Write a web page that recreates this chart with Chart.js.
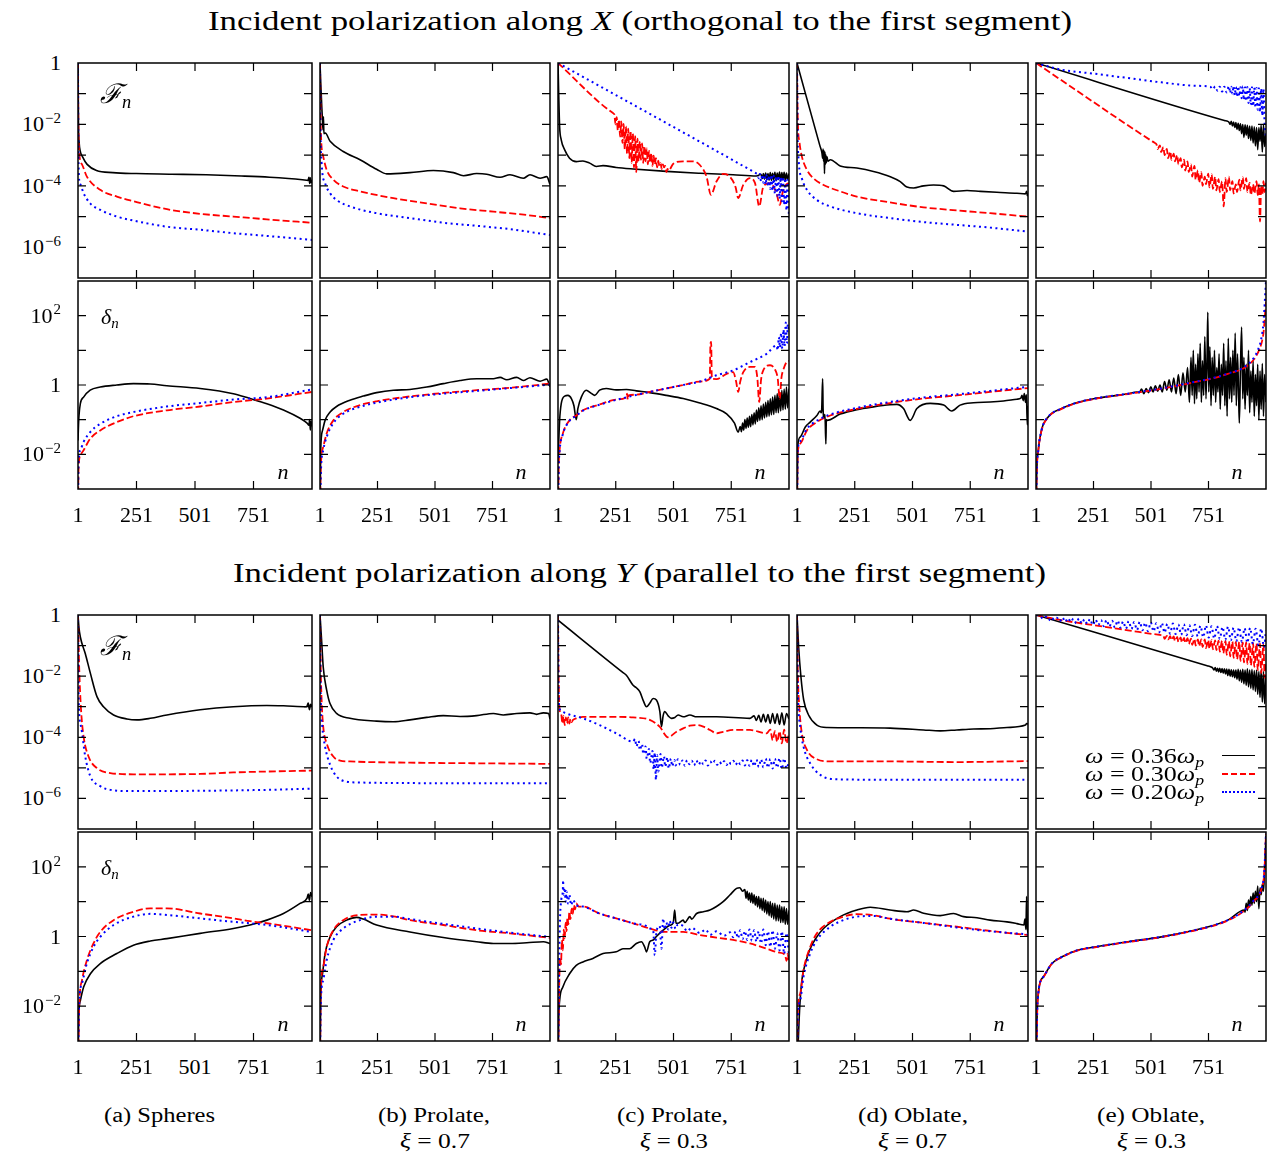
<!DOCTYPE html>
<html>
<head>
<meta charset="utf-8">
<script src="https://cdn.jsdelivr.net/npm/chart.js@4.4.1/dist/chart.umd.min.js"></script>
<style>
  body { margin: 0; background: #fff; width: 1271px; height: 1154px; position: relative; overflow: hidden;
         font-family: "Liberation Serif", "Times New Roman", "DejaVu Serif", serif; color: #000; }
  canvas { position: absolute; }
  .lbl { position: absolute; white-space: nowrap; line-height: 1; }
  .lbl sup { font-size: 68%; position: relative; top: -0.55em; vertical-align: baseline; margin-left: 1px; }
  .lbl sub { font-size: 68%; position: relative; top: 0.28em; vertical-align: baseline; }
  .sample { position: absolute; height: 0; }
</style>
</head>
<body>
<script>
// ---- data: [n, log10(value)] ----
// k = omega 0.36 (black), r = omega 0.30 (red), b = omega 0.20 (blue)

// Row 1: F_n, polarization X
const FX_a_k = [[1,0],[3,-2.0],[6,-2.6],[10,-2.85],[20,-3.05],[40,-3.3],[80,-3.5],[150,-3.57],[250,-3.6],[400,-3.62],[550,-3.64],[700,-3.68],[820,-3.72],[900,-3.76],[960,-3.8],[984,-3.82],[988,-3.72],[991,-3.92],[994,-3.74],[997,-3.9],[1001,-3.8]];
const FX_a_r = [[1,0],[2,-1.5],[5,-2.8],[18,-3.3],[39,-3.7],[96,-4.13],[167,-4.35],[238,-4.5],[381,-4.76],[523,-4.91],[665,-5.0],[808,-5.09],[1001,-5.2]];
const FX_a_b = [[1,0],[2,-2.0],[5,-3.7],[11,-3.95],[25,-4.24],[53,-4.57],[96,-4.78],[167,-5.0],[238,-5.13],[381,-5.33],[523,-5.43],[665,-5.54],[808,-5.63],[1001,-5.76]];

const FX_b_k = [[1,0],[4,-0.6],[9,-1.47],[12,-1.9],[14,-2.17],[16,-1.75],[18,-2.3],[24,-2.28],[45,-2.55],[102,-2.88],[175,-3.15],[247,-3.46],[291,-3.61],[392,-3.57],[494,-3.5],[581,-3.57],[625,-3.67],[682,-3.6],[726,-3.62],[784,-3.72],[827,-3.64],[885,-3.75],[914,-3.64],[958,-3.75],[987,-3.7],[1001,-3.95]];
const FX_b_r = [[1,0],[5,-2.28],[15,-3.04],[30,-3.48],[59,-3.8],[102,-4.02],[175,-4.18],[320,-4.4],[465,-4.57],[610,-4.73],[755,-4.84],[900,-4.95],[1001,-5.05]];
const FX_b_b = [[1,0],[3,-2.0],[8,-3.26],[23,-3.91],[45,-4.24],[73,-4.46],[131,-4.67],[247,-4.89],[392,-5.05],[537,-5.2],[682,-5.3],[827,-5.41],[1001,-5.6]];

const FX_c_k = [[1,0],[4,-1.0],[8,-2.07],[15,-2.5],[30,-2.83],[51,-3.1],[80,-3.21],[109,-3.19],[138,-3.26],[167,-3.37],[196,-3.34],[253,-3.4],[326,-3.45],[470,-3.53],[615,-3.59],[759,-3.64],[860,-3.68],[880,-3.62],[885,-3.76],[890,-3.6],[895,-3.78],[900,-3.58],[905,-3.8],[910,-3.6],[915,-3.81],[920,-3.57],[925,-3.82],[930,-3.59],[935,-3.8],[940,-3.56],[945,-3.83],[950,-3.58],[955,-3.79],[960,-3.55],[965,-3.84],[970,-3.57],[975,-3.8],[980,-3.56],[985,-3.83],[990,-3.58],[995,-3.78],[1001,-3.6]];
const FX_c_r = [[1,0],[239,-1.63],[245,-1.68],[250,-2.0],[255,-1.76],[260,-2.2],[265,-1.84],[270,-2.4],[275,-1.9],[280,-2.6],[285,-1.98],[290,-2.8],[295,-2.06],[300,-2.95],[305,-2.14],[310,-3.1],[315,-2.22],[320,-3.25],[325,-2.3],[330,-3.4],[335,-2.38],[340,-3.55],[345,-2.46],[350,-3.2],[355,-2.55],[360,-3.15],[365,-2.62],[370,-3.25],[375,-2.7],[380,-3.2],[385,-2.78],[390,-3.3],[395,-2.86],[400,-3.25],[405,-2.94],[410,-3.35],[415,-3.02],[420,-3.3],[425,-3.1],[430,-3.4],[435,-3.18],[440,-3.35],[445,-3.26],[450,-3.45],[455,-3.3],[460,-3.4],[465,-3.35],[470,-3.55],[475,-3.45],[480,-3.5],[500,-3.28],[543,-3.2],[586,-3.2],[615,-3.32],[644,-3.7],[663,-4.29],[687,-3.86],[716,-3.61],[745,-3.7],[770,-4.05],[781,-4.4],[803,-3.97],[832,-3.75],[854,-3.91],[872,-4.67],[890,-4.02],[919,-3.91],[947,-4.24],[961,-4.62],[976,-4.13],[990,-3.95],[1001,-3.91]];
const FX_c_b = [[1,0],[861,-3.6],[865,-3.62],[870,-3.75],[875,-3.61],[880,-3.85],[885,-3.63],[890,-3.9],[895,-3.64],[900,-3.96],[905,-3.63],[910,-4.02],[915,-3.66],[920,-4.1],[925,-3.64],[930,-4.16],[935,-3.68],[940,-4.25],[945,-3.69],[950,-4.32],[955,-3.67],[960,-4.42],[965,-3.72],[970,-4.5],[975,-3.7],[980,-4.62],[985,-3.75],[990,-4.8],[995,-3.8],[1001,-5.05]];

const FX_d_k = [[1,0],[100,-2.69],[109,-2.93],[112,-3.1],[114,-2.8],[116,-3.2],[118,-2.85],[120,-3.6],[122,-2.9],[124,-3.3],[126,-3.0],[128,-3.25],[131,-3.05],[135,-3.2],[145,-3.15],[188,-3.35],[260,-3.42],[332,-3.53],[405,-3.7],[448,-3.86],[477,-4.04],[506,-4.07],[549,-4.0],[592,-3.97],[636,-4.0],[679,-4.18],[737,-4.15],[795,-4.18],[866,-4.21],[953,-4.24],[990,-4.26],[995,-4.18],[998,-4.32],[1001,-4.25]];
const FX_d_r = [[1,0],[4,-1.74],[12,-2.6],[22,-3.04],[44,-3.48],[73,-3.76],[116,-3.97],[188,-4.18],[260,-4.35],[404,-4.54],[549,-4.7],[693,-4.8],[837,-4.89],[1001,-5.0]];
const FX_d_b = [[1,0],[3,-2.0],[8,-3.15],[22,-3.75],[44,-4.13],[87,-4.46],[145,-4.67],[260,-4.89],[404,-5.05],[549,-5.18],[693,-5.27],[837,-5.36],[1001,-5.49]];

const FX_e_k = [[1,0],[820,-1.87],[835,-1.9],[840,-1.93],[845,-2.0],[850,-1.9],[855,-2.05],[860,-1.92],[865,-2.1],[870,-1.94],[875,-2.16],[880,-1.96],[885,-2.2],[890,-1.98],[895,-2.3],[900,-2.0],[905,-2.42],[910,-2.01],[915,-2.35],[920,-2.03],[925,-2.46],[930,-2.05],[935,-2.52],[940,-2.05],[945,-2.6],[950,-2.08],[955,-2.7],[960,-2.1],[965,-2.82],[970,-2.1],[975,-2.55],[980,-2.02],[985,-2.9],[990,-2.0],[995,-2.72],[1001,-2.3]];
const FX_e_r = [[1,0],[500,-2.52],[517,-2.6],[525,-2.65],[530,-2.8],[540,-2.68],[545,-2.9],[555,-2.74],[560,-3.0],[570,-2.8],[575,-3.1],[585,-2.88],[590,-3.15],[600,-2.95],[605,-3.2],[615,-3.0],[620,-3.3],[630,-3.1],[635,-3.4],[645,-3.15],[650,-3.5],[660,-3.2],[665,-3.55],[675,-3.3],[680,-3.7],[690,-3.35],[695,-3.8],[705,-3.5],[710,-3.9],[720,-3.55],[725,-4.0],[735,-3.7],[740,-3.95],[750,-3.6],[755,-4.05],[765,-3.62],[770,-4.1],[780,-3.7],[785,-4.15],[795,-3.78],[800,-4.2],[810,-3.85],[817,-4.67],[825,-3.75],[830,-4.2],[840,-3.7],[845,-4.15],[855,-3.85],[860,-4.25],[870,-3.95],[875,-4.2],[885,-3.8],[890,-4.15],[900,-3.72],[905,-4.1],[915,-3.75],[920,-4.2],[930,-3.9],[935,-4.3],[945,-3.95],[950,-4.25],[960,-3.85],[965,-4.3],[970,-3.95],[975,-5.16],[980,-4.0],[985,-4.3],[990,-3.85],[995,-4.2],[1001,-3.9]];
const FX_e_b = [[1,0],[112,-0.22],[257,-0.35],[401,-0.49],[546,-0.63],[690,-0.74],[760,-0.78],[770,-0.86],[780,-0.76],[790,-0.9],[800,-0.77],[810,-0.93],[820,-0.77],[830,-0.96],[840,-0.75],[845,-0.98],[850,-0.77],[855,-1.0],[860,-0.75],[865,-1.05],[870,-0.78],[875,-1.1],[880,-0.76],[885,-1.08],[890,-0.79],[895,-1.15],[900,-0.76],[905,-1.2],[910,-0.79],[915,-1.24],[920,-0.78],[925,-1.3],[930,-0.81],[935,-1.36],[940,-0.79],[945,-1.4],[950,-0.8],[955,-1.46],[960,-0.81],[965,-1.52],[970,-0.82],[975,-1.6],[980,-0.83],[985,-1.72],[990,-0.83],[995,-2.0],[1001,-2.4]];

// Row 2: delta_n, polarization X
const DX_a_k = [[1,-1.6],[4,-1.02],[11,-0.54],[25,-0.35],[53,-0.15],[96,-0.06],[167,0.0],[238,0.04],[310,0.03],[381,-0.02],[523,-0.1],[665,-0.25],[736,-0.39],[808,-0.54],[879,-0.72],[950,-0.96],[980,-1.1],[988,-1.16],[991,-1.0],[994,-1.3],[997,-1.05],[1001,-1.2]];
const DX_a_r = [[1,-4],[3,-2.5],[11,-2.03],[25,-1.88],[53,-1.55],[96,-1.31],[167,-1.07],[238,-0.9],[381,-0.73],[523,-0.62],[665,-0.49],[808,-0.39],[1001,-0.2]];
const DX_a_b = [[1,-4],[3,-2.3],[11,-1.88],[25,-1.64],[53,-1.36],[96,-1.12],[167,-0.9],[238,-0.78],[381,-0.62],[523,-0.52],[665,-0.42],[808,-0.35],[1001,-0.13]];

const DX_b_k = [[1,-4],[4,-1.88],[12,-1.31],[23,-1.02],[45,-0.78],[73,-0.62],[131,-0.44],[189,-0.32],[247,-0.22],[320,-0.15],[392,-0.13],[465,-0.06],[537,0.04],[610,0.13],[682,0.18],[755,0.18],[784,0.22],[813,0.15],[856,0.22],[885,0.13],[914,0.21],[958,0.11],[987,0.17],[1001,-0.05]];
const DX_b_r = [[1,-4],[4,-2.46],[15,-1.79],[30,-1.4],[59,-1.02],[102,-0.78],[175,-0.58],[247,-0.47],[392,-0.33],[537,-0.23],[682,-0.15],[827,-0.08],[1001,0.04]];
const DX_b_b = [[1,-4],[5,-2.5],[15,-1.88],[30,-1.5],[59,-1.1],[102,-0.83],[175,-0.63],[247,-0.51],[392,-0.35],[537,-0.25],[682,-0.17],[827,-0.09],[1001,0.01]];

const DX_c_k = [[1,-2.2],[8,-1.02],[15,-0.54],[30,-0.32],[44,-0.3],[59,-0.39],[70,-0.6],[80,-1.0],[87,-0.68],[102,-0.35],[123,-0.15],[145,-0.24],[160,-0.3],[181,-0.15],[210,-0.1],[253,-0.14],[297,-0.13],[340,-0.17],[398,-0.22],[470,-0.3],[543,-0.39],[615,-0.52],[687,-0.68],[731,-0.83],[765,-1.1],[781,-1.36],[790,-1.2],[795,-1.35],[800,-1.1],[805,-1.3],[810,-1.0],[815,-1.25],[820,-0.95],[825,-1.22],[830,-0.9],[835,-1.2],[840,-0.85],[845,-1.15],[850,-0.8],[855,-1.12],[860,-0.72],[865,-1.05],[870,-0.66],[875,-1.02],[880,-0.6],[885,-1.0],[890,-0.55],[895,-0.95],[900,-0.5],[905,-0.92],[910,-0.45],[915,-0.9],[920,-0.4],[925,-0.86],[930,-0.35],[935,-0.85],[940,-0.3],[945,-0.8],[950,-0.25],[955,-0.8],[960,-0.2],[965,-0.75],[970,-0.15],[975,-0.72],[980,-0.12],[985,-0.7],[990,-0.06],[995,-0.66],[1001,-0.1]];
const DX_c_r = [[1,-4],[4,-2.4],[8,-1.88],[22,-1.4],[51,-1.02],[80,-0.88],[109,-0.73],[181,-0.56],[253,-0.42],[297,-0.35],[300,-0.25],[303,-0.42],[306,-0.3],[340,-0.28],[398,-0.2],[470,-0.1],[543,0.0],[615,0.1],[658,0.18],[661,1.2],[664,1.24],[667,0.18],[687,0.17],[731,0.32],[759,0.37],[772,0.1],[781,-0.2],[790,0.1],[803,0.37],[832,0.52],[854,0.52],[864,0.2],[872,-0.49],[880,0.15],[890,0.43],[919,0.57],[940,0.45],[952,0.2],[961,-0.4],[968,0.2],[976,0.43],[990,0.66],[1001,0.7]];
const DX_c_b = [[1,-4],[4,-2.45],[8,-1.9],[22,-1.42],[51,-1.03],[80,-0.89],[109,-0.74],[181,-0.57],[253,-0.43],[398,-0.2],[470,-0.1],[543,0.0],[615,0.1],[687,0.28],[759,0.42],[832,0.66],[904,0.9],[947,1.14],[952,1.0],[957,1.38],[962,1.08],[967,1.5],[972,1.05],[977,1.6],[982,1.12],[987,1.8],[992,1.2],[996,1.75],[1001,1.5]];

const DX_d_k = [[1,-4],[4,-1.79],[15,-1.5],[37,-1.21],[58,-1.07],[87,-0.88],[101,-0.75],[106,-0.8],[108,-0.7],[112,0.18],[114,-0.7],[118,-0.95],[122,-0.85],[126,-1.7],[128,-1.0],[131,-1.02],[188,-0.84],[260,-0.71],[332,-0.63],[404,-0.57],[433,-0.56],[462,-0.68],[491,-1.02],[520,-0.68],[578,-0.53],[636,-0.58],[671,-0.75],[707,-0.58],[765,-0.51],[837,-0.49],[895,-0.46],[953,-0.41],[970,-0.38],[975,-0.3],[980,-0.45],[985,-0.25],[990,-0.5],[994,-0.28],[998,-1.15],[1001,-0.6]];
const DX_d_r = [[1,-4],[4,-1.98],[15,-1.69],[44,-1.31],[87,-1.07],[145,-0.88],[260,-0.69],[404,-0.52],[549,-0.39],[693,-0.3],[837,-0.2],[1001,-0.09]];
const DX_d_b = [[1,-4],[4,-1.9],[15,-1.62],[44,-1.26],[87,-1.03],[145,-0.85],[260,-0.66],[404,-0.49],[549,-0.36],[693,-0.27],[837,-0.17],[1001,-0.05]];

const DX_e_k = [[1,-4],[4,-2.6],[11,-1.88],[25,-1.3],[54,-0.92],[112,-0.68],[184,-0.5],[257,-0.39],[330,-0.32],[401,-0.25],[440,-0.2],[450,-0.22],[460,-0.12],[470,-0.25],[480,-0.1],[490,-0.22],[500,-0.05],[510,-0.2],[520,-0.02],[530,-0.18],[540,0.0],[550,-0.2],[560,0.1],[570,-0.15],[580,0.15],[590,-0.2],[600,0.2],[610,-0.25],[620,0.3],[630,-0.3],[640,0.35],[650,-0.2],[660,0.5],[668,-0.5],[675,0.8],[680,-0.3],[685,1.0],[690,-0.54],[695,0.6],[700,-0.4],[705,0.9],[710,-0.2],[715,1.2],[720,-0.5],[725,0.7],[730,-0.3],[735,1.4],[740,-0.4],[745,0.9],[748,2.1],[752,-0.2],[757,1.1],[762,-0.6],[767,0.8],[772,-0.3],[777,1.0],[782,-0.5],[787,0.5],[792,-0.2],[797,0.9],[802,-0.7],[807,0.6],[812,-0.3],[817,1.2],[822,-0.6],[827,0.7],[832,-0.9],[837,1.35],[842,-0.4],[847,0.8],[852,-0.5],[857,1.0],[862,-0.3],[867,1.5],[872,-0.6],[877,0.9],[882,-0.3],[885,-1.1],[890,0.5],[895,1.67],[900,-0.4],[905,0.8],[910,-0.7],[915,0.6],[920,-0.3],[925,1.0],[930,-0.8],[935,0.4],[940,-0.5],[945,0.7],[950,-0.9],[955,0.3],[960,-0.6],[965,0.6],[970,-1.0],[975,0.4],[980,-0.7],[985,0.62],[990,-0.9],[995,0.3],[1001,-0.5]];
const DX_e_r = [[1,-4],[4,-2.6],[11,-1.9],[25,-1.32],[54,-0.93],[112,-0.69],[184,-0.51],[257,-0.4],[401,-0.26],[546,-0.11],[690,0.08],[763,0.18],[835,0.32],[907,0.5],[950,0.75],[965,0.92],[979,1.15],[990,1.5],[1001,2.4]];
const DX_e_b = [[1,-4],[4,-2.6],[11,-1.88],[25,-1.3],[54,-0.92],[112,-0.68],[184,-0.5],[257,-0.39],[401,-0.25],[546,-0.1],[690,0.09],[763,0.19],[835,0.33],[907,0.52],[950,0.8],[965,1.0],[979,1.29],[990,1.8],[1001,3.0]];

// Row 3: F_n, polarization Y
const FY_a_k = [[1,0],[5,-0.4],[11,-0.72],[32,-1.26],[54,-1.91],[82,-2.67],[110,-3.0],[153,-3.27],[210,-3.4],[253,-3.43],[310,-3.38],[381,-3.27],[523,-3.1],[665,-3.0],[808,-2.96],[879,-2.97],[978,-3.0],[985,-2.88],[990,-3.1],[995,-2.92],[1001,-3.0]];
const FY_a_r = [[1,0],[6,-1.7],[14,-3.1],[25,-3.98],[46,-4.63],[82,-5.01],[139,-5.17],[238,-5.21],[381,-5.21],[523,-5.2],[665,-5.15],[808,-5.12],[1001,-5.09]];
const FY_a_b = [[1,0],[4,-2.78],[14,-3.65],[32,-4.63],[54,-5.28],[96,-5.6],[139,-5.72],[238,-5.76],[523,-5.75],[808,-5.72],[1001,-5.68]];

const FY_b_k = [[1,0],[8,-0.83],[15,-1.7],[30,-2.46],[44,-2.89],[73,-3.22],[131,-3.38],[247,-3.47],[320,-3.49],[392,-3.43],[465,-3.35],[537,-3.29],[610,-3.32],[682,-3.29],[755,-3.22],[798,-3.27],[856,-3.22],[914,-3.2],[943,-3.25],[972,-3.2],[995,-3.22],[1001,-3.4]];
const FY_b_r = [[1,0],[4,-1.7],[8,-2.78],[15,-3.65],[30,-4.2],[59,-4.63],[88,-4.76],[131,-4.79],[392,-4.83],[682,-4.85],[1001,-4.87]];
const FY_b_b = [[1,0],[4,-2.57],[11,-3.65],[23,-4.3],[45,-4.9],[73,-5.28],[117,-5.45],[175,-5.48],[537,-5.5],[1001,-5.5]];

const FY_c_k = [[1,-0.17],[280,-1.87],[297,-1.97],[326,-2.3],[340,-2.38],[355,-2.51],[370,-2.8],[384,-3.0],[398,-2.89],[413,-2.73],[427,-2.78],[442,-3.16],[449,-3.65],[456,-3.3],[463,-3.16],[478,-3.3],[492,-3.38],[507,-3.35],[521,-3.27],[543,-3.33],[572,-3.27],[601,-3.33],[687,-3.33],[832,-3.38],[850,-3.3],[860,-3.45],[870,-3.28],[880,-3.5],[890,-3.25],[900,-3.5],[910,-3.26],[920,-3.55],[930,-3.22],[940,-3.55],[950,-3.23],[960,-3.58],[970,-3.2],[980,-3.6],[990,-3.22],[1001,-3.4]];
const FY_c_r = [[1,0],[3,-1.7],[8,-3.1],[15,-3.25],[20,-3.55],[25,-3.3],[30,-3.6],[35,-3.35],[40,-3.55],[45,-3.35],[50,-3.55],[55,-3.4],[60,-3.5],[66,-3.43],[80,-3.38],[109,-3.33],[181,-3.33],[253,-3.33],[326,-3.35],[398,-3.43],[441,-3.65],[477,-4.0],[514,-3.82],[543,-3.71],[572,-3.62],[601,-3.6],[630,-3.65],[659,-3.76],[687,-3.87],[716,-3.82],[759,-3.76],[832,-3.76],[904,-3.87],[920,-3.75],[930,-4.1],[940,-3.8],[950,-4.15],[960,-3.8],[970,-4.2],[980,-3.75],[990,-4.2],[1001,-3.87]];
const FY_c_b = [[1,0],[4,-2.78],[11,-3.11],[37,-3.22],[109,-3.38],[181,-3.6],[253,-3.87],[326,-4.14],[335,-4.05],[340,-4.3],[350,-4.12],[355,-4.42],[365,-4.22],[370,-4.55],[380,-4.3],[385,-4.7],[395,-4.38],[400,-4.85],[410,-4.45],[415,-5.05],[420,-4.5],[425,-5.39],[430,-4.58],[435,-5.12],[445,-4.55],[450,-5.0],[460,-4.62],[465,-4.96],[475,-4.66],[480,-5.02],[490,-4.7],[495,-4.95],[505,-4.74],[510,-4.92],[520,-4.72],[530,-4.9],[540,-4.76],[550,-4.93],[560,-4.75],[570,-4.88],[580,-4.77],[590,-4.92],[600,-4.76],[610,-4.9],[620,-4.78],[630,-4.88],[640,-4.76],[650,-4.92],[660,-4.79],[670,-4.87],[680,-4.77],[690,-4.9],[700,-4.8],[710,-4.88],[720,-4.78],[730,-4.91],[740,-4.8],[750,-4.87],[760,-4.77],[770,-4.9],[780,-4.79],[790,-4.88],[800,-4.76],[810,-4.92],[820,-4.75],[830,-4.93],[840,-4.74],[850,-4.95],[860,-4.73],[870,-4.97],[880,-4.72],[890,-4.98],[900,-4.7],[910,-5.0],[920,-4.71],[930,-5.02],[940,-4.7],[950,-5.0],[960,-4.68],[970,-5.04],[980,-4.69],[990,-5.02],[1001,-4.8]];

const FY_d_k = [[1,0],[8,-1.04],[18,-2.02],[30,-2.78],[51,-3.27],[87,-3.6],[131,-3.68],[260,-3.69],[404,-3.7],[549,-3.76],[621,-3.79],[693,-3.76],[765,-3.73],[837,-3.72],[910,-3.68],[990,-3.6],[995,-3.55],[1001,-3.57]];
const FY_d_r = [[1,0],[4,-1.7],[12,-3.11],[22,-3.87],[44,-4.41],[87,-4.72],[145,-4.79],[404,-4.79],[693,-4.81],[1001,-4.78]];
const FY_d_b = [[1,0],[4,-2.2],[15,-3.65],[29,-4.3],[58,-4.85],[102,-5.23],[159,-5.37],[404,-5.39],[1001,-5.39]];

const FY_e_k = [[1,0],[745,-1.66],[762,-1.7],[770,-1.74],[775,-1.8],[780,-1.72],[785,-1.84],[790,-1.74],[795,-1.86],[800,-1.74],[805,-1.88],[810,-1.75],[815,-1.9],[820,-1.76],[825,-1.93],[830,-1.77],[835,-1.98],[840,-1.78],[845,-2.0],[850,-1.79],[855,-2.02],[860,-1.8],[865,-2.05],[870,-1.8],[875,-2.1],[880,-1.78],[885,-2.15],[890,-1.8],[895,-2.2],[900,-1.78],[905,-2.25],[910,-1.8],[915,-2.3],[920,-1.76],[925,-2.35],[930,-1.8],[935,-2.4],[940,-1.78],[945,-2.45],[950,-1.82],[955,-2.5],[960,-1.8],[965,-2.6],[970,-1.85],[975,-2.7],[980,-1.8],[985,-2.85],[990,-1.85],[995,-2.9],[1001,-2.0]];
const FY_e_r = [[1,0],[112,-0.17],[257,-0.34],[401,-0.5],[546,-0.66],[555,-0.68],[560,-0.78],[570,-0.68],[575,-0.8],[585,-0.69],[590,-0.82],[600,-0.7],[605,-0.85],[615,-0.72],[620,-0.88],[630,-0.73],[635,-0.9],[645,-0.75],[650,-0.92],[660,-0.76],[665,-0.95],[675,-0.77],[680,-0.98],[690,-0.78],[695,-1.0],[705,-0.8],[710,-1.02],[720,-0.8],[725,-1.05],[735,-0.8],[740,-1.08],[750,-0.82],[755,-1.1],[765,-0.82],[770,-1.12],[780,-0.83],[785,-1.15],[795,-0.84],[800,-1.2],[810,-0.84],[815,-1.25],[825,-0.85],[830,-1.3],[840,-0.86],[845,-1.35],[855,-0.87],[860,-1.4],[870,-0.88],[875,-1.45],[885,-0.88],[890,-1.5],[900,-0.9],[905,-1.55],[915,-0.9],[920,-1.6],[930,-0.92],[935,-1.65],[945,-0.92],[950,-1.7],[960,-0.93],[965,-1.8],[975,-0.94],[980,-1.9],[990,-0.97],[995,-2.05],[1001,-1.5]];
const FY_e_b = [[1,0],[20,-0.04],[32,-0.13],[44,-0.06],[56,-0.17],[68,-0.07],[80,-0.16],[92,-0.09],[104,-0.21],[116,-0.08],[128,-0.23],[140,-0.1],[152,-0.23],[164,-0.12],[176,-0.27],[188,-0.11],[200,-0.28],[212,-0.14],[224,-0.29],[236,-0.13],[248,-0.33],[260,-0.15],[272,-0.33],[284,-0.17],[296,-0.37],[308,-0.16],[320,-0.38],[332,-0.19],[344,-0.41],[356,-0.18],[368,-0.42],[380,-0.21],[392,-0.45],[404,-0.2],[416,-0.46],[428,-0.23],[440,-0.49],[452,-0.22],[464,-0.5],[476,-0.25],[488,-0.53],[500,-0.24],[512,-0.54],[524,-0.27],[536,-0.57],[548,-0.26],[560,-0.58],[572,-0.29],[584,-0.61],[596,-0.28],[608,-0.62],[620,-0.31],[632,-0.65],[644,-0.3],[656,-0.66],[668,-0.33],[680,-0.69],[692,-0.32],[704,-0.7],[716,-0.35],[728,-0.73],[740,-0.34],[752,-0.74],[764,-0.37],[776,-0.77],[788,-0.36],[800,-0.78],[812,-0.39],[824,-0.81],[836,-0.38],[848,-0.83],[860,-0.41],[872,-0.86],[884,-0.4],[896,-0.88],[908,-0.43],[920,-0.91],[932,-0.42],[944,-0.95],[956,-0.45],[968,-1.0],[980,-0.44],[992,-1.05],[1001,-0.5]];

// Row 4: delta_n, polarization Y
const DY_a_k = [[1,-4],[4,-2.32],[11,-1.84],[25,-1.45],[54,-1.07],[96,-0.78],[167,-0.49],[238,-0.25],[310,-0.13],[381,-0.06],[523,0.09],[665,0.23],[736,0.33],[808,0.47],[879,0.66],[950,0.95],[980,1.1],[985,1.22],[990,1.04],[995,1.26],[1001,1.14]];
const DY_a_r = [[1,-4],[6,-2.03],[18,-1.26],[39,-0.68],[67,-0.2],[96,0.13],[153,0.47],[238,0.71],[310,0.81],[381,0.81],[523,0.66],[665,0.52],[736,0.44],[808,0.38],[1001,0.18]];
const DY_a_b = [[1,-4],[6,-1.93],[18,-1.35],[39,-0.77],[67,-0.3],[96,-0.01],[153,0.33],[238,0.57],[310,0.65],[381,0.62],[523,0.52],[665,0.42],[808,0.33],[1001,0.13]];

const DY_b_k = [[1,-4],[4,-1.84],[12,-1.07],[23,-0.49],[45,-0.01],[73,0.28],[117,0.47],[160,0.55],[189,0.5],[247,0.33],[392,0.13],[537,-0.03],[682,-0.15],[755,-0.2],[827,-0.2],[900,-0.18],[972,-0.15],[1001,-0.2]];
const DY_b_r = [[1,-4],[4,-1.64],[15,-0.88],[30,-0.3],[59,0.18],[102,0.47],[175,0.62],[247,0.63],[320,0.58],[392,0.47],[537,0.33],[682,0.18],[827,0.09],[1001,-0.04]];
const DY_b_b = [[1,-4],[4,-2.0],[15,-1.25],[30,-0.68],[59,-0.1],[102,0.23],[175,0.47],[247,0.57],[320,0.57],[392,0.5],[537,0.36],[682,0.23],[827,0.11],[1001,-0.01]];

const DY_c_k = [[1,-4],[4,-2.4],[8,-1.84],[22,-1.45],[51,-1.07],[80,-0.83],[109,-0.73],[152,-0.63],[196,-0.49],[253,-0.44],[282,-0.35],[311,-0.35],[340,-0.2],[362,-0.15],[376,-0.3],[384,-0.44],[398,-0.15],[413,-0.1],[427,0.0],[456,0.18],[485,0.32],[500,0.4],[506,0.76],[512,0.38],[521,0.38],[543,0.47],[550,0.4],[572,0.57],[580,0.5],[601,0.66],[630,0.71],[659,0.76],[687,0.86],[716,1.0],[745,1.19],[774,1.38],[788,1.4],[800,1.3],[810,1.35],[815,1.1],[820,1.3],[825,1.05],[830,1.25],[835,0.98],[840,1.25],[845,0.95],[850,1.2],[855,0.9],[860,1.15],[865,0.85],[870,1.15],[875,0.8],[880,1.1],[885,0.75],[890,1.1],[895,0.7],[900,1.05],[905,0.65],[910,1.0],[915,0.6],[920,1.0],[925,0.55],[930,0.95],[935,0.5],[940,0.95],[945,0.45],[950,0.9],[955,0.45],[960,0.9],[965,0.4],[970,0.85],[975,0.4],[980,0.85],[985,0.35],[990,0.8],[995,0.35],[1001,0.75]];
const DY_c_r = [[1,-4],[6,-1.5],[10,-0.6],[14,-0.8],[18,-0.1],[22,-0.4],[26,0.2],[30,-0.05],[34,0.4],[38,0.15],[42,0.55],[46,0.35],[50,0.7],[55,0.5],[60,0.8],[65,0.65],[70,0.9],[75,0.78],[80,0.95],[90,0.86],[109,0.86],[181,0.66],[253,0.52],[326,0.38],[398,0.23],[470,0.13],[543,0.13],[615,0.04],[687,-0.03],[759,-0.1],[832,-0.2],[904,-0.35],[950,-0.45],[976,-0.49],[985,-0.55],[990,-0.7],[995,-0.5],[1001,-0.75]];
const DY_c_b = [[1,-4],[8,0.0],[15,1.05],[22,1.33],[23,1.62],[25,1.2],[30,1.4],[34,1.0],[38,1.3],[44,0.95],[50,1.2],[58,0.9],[66,1.05],[80,0.9],[109,0.86],[181,0.66],[253,0.52],[326,0.38],[384,0.3],[398,0.23],[413,0.18],[420,-0.54],[427,0.13],[441,0.3],[449,-0.35],[456,0.52],[463,0.2],[470,0.4],[478,0.2],[485,0.45],[492,0.25],[500,0.4],[510,0.22],[520,0.35],[543,0.3],[560,0.15],[580,0.25],[615,0.1],[640,0.2],[660,0.05],[687,0.15],[720,0.02],[745,0.12],[760,-0.02],[770,0.15],[780,-0.05],[790,0.18],[800,-0.08],[810,0.16],[820,-0.1],[830,0.2],[840,-0.12],[850,0.18],[860,-0.15],[870,0.15],[880,-0.2],[890,0.2],[900,-0.25],[910,0.15],[920,-0.3],[930,0.18],[940,-0.35],[950,0.1],[960,-0.4],[970,0.15],[980,-0.5],[990,0.1],[1001,-0.55]];

const DY_d_k = [[1,-4],[12,-2.13],[22,-1.26],[37,-0.78],[58,-0.35],[87,-0.01],[116,0.23],[188,0.57],[260,0.76],[318,0.84],[404,0.76],[477,0.71],[506,0.76],[549,0.67],[621,0.6],[679,0.66],[722,0.57],[780,0.54],[837,0.47],[910,0.42],[953,0.37],[983,0.33],[988,0.5],[992,0.2],[995,1.15],[998,0.3],[1001,0.1]];
const DY_d_r = [[1,-4],[4,-2.2],[15,-1.64],[29,-0.97],[58,-0.3],[87,0.09],[145,0.42],[202,0.57],[260,0.64],[332,0.61],[404,0.51],[549,0.39],[693,0.28],[837,0.16],[1001,0.04]];
const DY_d_b = [[1,-4],[4,-2.4],[15,-1.84],[29,-1.16],[58,-0.49],[87,-0.1],[145,0.28],[202,0.47],[260,0.57],[332,0.59],[404,0.51],[549,0.39],[693,0.26],[837,0.15],[1001,0.06]];

const DY_e_k = [[1,-4],[8,-1.84],[33,-1.16],[69,-0.78],[112,-0.59],[184,-0.39],[257,-0.3],[401,-0.15],[546,-0.01],[690,0.18],[763,0.3],[835,0.47],[907,0.76],[910,0.7],[915,0.95],[920,0.75],[925,1.05],[930,0.85],[935,1.15],[940,0.9],[945,1.25],[950,0.95],[955,1.3],[960,1.0],[965,1.45],[970,0.8],[975,1.4],[980,1.2],[985,1.5],[990,1.3],[995,1.9],[1001,2.9]];
const DY_e_r = [[1,-4],[8,-1.85],[33,-1.17],[69,-0.79],[112,-0.6],[184,-0.4],[257,-0.31],[401,-0.16],[546,-0.02],[690,0.17],[763,0.29],[835,0.46],[907,0.74],[950,1.03],[979,1.32],[994,1.88],[1001,2.95]];
const DY_e_b = [[1,-4],[8,-1.84],[33,-1.16],[69,-0.78],[112,-0.59],[184,-0.39],[257,-0.3],[401,-0.15],[546,-0.01],[690,0.18],[763,0.3],[835,0.47],[907,0.76],[950,1.05],[979,1.34],[994,1.9],[1001,2.97]];

// ---- axes / labels ----
const xTickVals = [1, 251, 501, 751];
const xTickLabels = ['1', '251', '501', '751'];
const fTickVals = [1, 1e-2, 1e-4, 1e-6];
const fTickLabels = ['1', '10<sup>−2</sup>', '10<sup>−4</sup>', '10<sup>−6</sup>'];
const dTickVals = [1e2, 1, 1e-2];
const dTickLabels = ['10<sup>2</sup>', '1', '10<sup>−2</sup>'];
const fMinor = [1e-6, 1e-5, 1e-4, 1e-3, 1e-2, 1e-1];
const dMinor = [1e-2, 1e-1, 1, 10, 100];
const legendLabels = ['0.36', '0.30', '0.20'];
const captions = [['(a) Spheres', ''], ['(b) Prolate,', '0.7'], ['(c) Prolate,', '0.3'], ['(d) Oblate,', '0.7'], ['(e) Oblate,', '0.3']];
const titles = ['Incident polarization along <i>X</i> (orthogonal to the first segment)',
                'Incident polarization along <i>Y</i> (parallel to the first segment)'];

const rows = [
  { kind: 'F', sets: [[FX_a_k, FX_a_r, FX_a_b], [FX_b_k, FX_b_r, FX_b_b], [FX_c_k, FX_c_r, FX_c_b], [FX_d_k, FX_d_r, FX_d_b], [FX_e_k, FX_e_r, FX_e_b]] },
  { kind: 'D', sets: [[DX_a_k, DX_a_r, DX_a_b], [DX_b_k, DX_b_r, DX_b_b], [DX_c_k, DX_c_r, DX_c_b], [DX_d_k, DX_d_r, DX_d_b], [DX_e_k, DX_e_r, DX_e_b]] },
  { kind: 'F', sets: [[FY_a_k, FY_a_r, FY_a_b], [FY_b_k, FY_b_r, FY_b_b], [FY_c_k, FY_c_r, FY_c_b], [FY_d_k, FY_d_r, FY_d_b], [FY_e_k, FY_e_r, FY_e_b]] },
  { kind: 'D', sets: [[DY_a_k, DY_a_r, DY_a_b], [DY_b_k, DY_b_r, DY_b_b], [DY_c_k, DY_c_r, DY_c_b], [DY_d_k, DY_d_r, DY_d_b], [DY_e_k, DY_e_r, DY_e_b]] }
];

// ---- layout ----
const colLeft = [78, 320, 558, 797, 1036];
const colRight = [312, 550, 789, 1028, 1266];
const rowTop = [63, 281, 615, 832];
const rowBottom = [278, 489, 829, 1041];
const PAD = 4;

const lineStyle = [
  { borderColor: '#000', borderWidth: 1.6, borderDash: [] },
  { borderColor: '#ff0000', borderWidth: 1.8, borderDash: [7, 3] },
  { borderColor: '#0000ff', borderWidth: 2, borderDash: [2, 3.5] }
];

const frameTicks = {
  id: 'frameTicks',
  afterDatasetsDraw(chart, args, opts) {
    const { ctx, chartArea: a, scales: { x, y } } = chart;
    ctx.save();
    ctx.strokeStyle = '#000';
    ctx.lineWidth = 1.2;
    ctx.setLineDash([]);
    ctx.beginPath();
    for (const v of opts.yTicks) {
      const py = y.getPixelForValue(v);
      ctx.moveTo(a.left, py); ctx.lineTo(a.left + 8, py);
      ctx.moveTo(a.right, py); ctx.lineTo(a.right - 8, py);
    }
    for (const v of xTickVals.slice(1)) {
      const px = x.getPixelForValue(v);
      ctx.moveTo(px, a.top); ctx.lineTo(px, a.top + 8);
      ctx.moveTo(px, a.bottom); ctx.lineTo(px, a.bottom - 8);
    }
    ctx.stroke();
    ctx.lineWidth = 1.5;
    ctx.strokeRect(a.left, a.top, a.right - a.left, a.bottom - a.top);
    ctx.restore();
  }
};

function addText(html, x, y, o = {}) {
  const el = document.createElement('div');
  el.className = 'lbl';
  el.innerHTML = html;
  el.style.fontSize = (o.size || 22) + 'px';
  if (o.italic) el.style.fontStyle = 'italic';
  document.body.appendChild(el);
  const r = el.getBoundingClientRect();
  const sx = o.width ? o.width / r.width : 1;
  const w = r.width * sx;
  let left = x;
  if (o.align === 'center') left = x - w / 2;
  if (o.align === 'right') left = x - w;
  el.style.left = left + 'px';
  el.style.top = (y - r.height / 2) + 'px';
  if (sx !== 1) { el.style.transformOrigin = '0 50%'; el.style.transform = 'scaleX(' + sx + ')'; }
  return el;
}

const charts = [];
rows.forEach((row, ri) => {
  row.sets.forEach((set, ci) => {
    const L = colLeft[ci], R = colRight[ci], T = rowTop[ri], B = rowBottom[ri];
    const c = document.createElement('canvas');
    c.width = R - L + 2 * PAD;
    c.height = B - T + 2 * PAD;
    c.style.left = (L - PAD) + 'px';
    c.style.top = (T - PAD) + 'px';
    document.body.appendChild(c);
    const isF = row.kind === 'F';
    // blue first so that it is drawn on top, black last
    const datasets = [2, 1, 0].map(k => Object.assign({
      data: set[k].map(([n, e]) => ({ x: n, y: Math.pow(10, e) })),
      pointRadius: 0,
      fill: false,
      cubicInterpolationMode: 'monotone'
    }, lineStyle[k]));
    const chart = new Chart(c, {
      type: 'line',
      data: { datasets },
      options: {
        responsive: false,
        animation: false,
        devicePixelRatio: 1,
        events: [],
        layout: { padding: PAD },
        plugins: {
          legend: { display: false },
          tooltip: { enabled: false },
          frameTicks: { yTicks: isF ? fMinor : dMinor }
        },
        scales: {
          x: { type: 'linear', min: 1, max: 1001, display: false },
          y: { type: 'logarithmic', min: isF ? 1e-7 : 1e-3, max: isF ? 1 : 1e3, display: false }
        }
      },
      plugins: [frameTicks]
    });
    charts.push({ chart, ri, ci, L, R, T, B });
  });
});

// tick labels, panel labels
charts.forEach(({ chart, ri, ci, L, R, T, B }) => {
  const isF = rows[ri].kind === 'F';
  if (ci === 0) {
    const vals = isF ? fTickVals : dTickVals;
    const labs = isF ? fTickLabels : dTickLabels;
    vals.forEach((v, i) => {
      const py = T - PAD + chart.scales.y.getPixelForValue(v);
      addText(labs[i], 61, py, { align: 'right' });
    });
    if (isF) addText('ℱ<sub><i>n</i></sub>', L + 22, T + 31, { size: 27, italic: true });
    else addText('<i>δ</i><sub><i>n</i></sub>', L + 23, T + 36, { size: 22 });
  }
  if (!isF) {
    xTickVals.forEach((v, i) => {
      const px = L - PAD + chart.scales.x.getPixelForValue(v);
      addText(xTickLabels[i], px, B + 26, { align: 'center' });
    });
    addText('n', R - 29, B - 17, { align: 'center', italic: true });
  }
});

// titles
addText(titles[0], 208, 21, { size: 28, width: 864 });
addText(titles[1], 233, 573, { size: 28, width: 813 });

// captions
const capX = [[104, 111], [378, 112], [617, 111], [858, 110], [1097, 108]];
const xiX = [[0, 0], [400, 70], [640, 68], [878, 69], [1117, 69]];
captions.forEach((cap, i) => {
  addText(cap[0], capX[i][0], 1115, { size: 20, width: capX[i][1] });
  if (cap[1]) addText('<i>ξ</i> = ' + cap[1], xiX[i][0], 1141, { size: 20, width: xiX[i][1] });
});

// legend
const legY = [756, 774, 792];
const sampleCss = ['1.6px solid #000', '2px dashed #ff0000', '2px dotted #0000ff'];
legendLabels.forEach((lab, i) => {
  addText('<i>ω</i> = ' + lab + '<i>ω</i><sub><i>p</i></sub>', 1085, legY[i], { size: 22, width: 119 });
  const s = document.createElement('div');
  s.className = 'sample';
  s.style.left = '1222px';
  s.style.width = '33px';
  s.style.top = (legY[i] - 1) + 'px';
  s.style.borderTop = sampleCss[i];
  document.body.appendChild(s);
});
</script>
</body>
</html>
